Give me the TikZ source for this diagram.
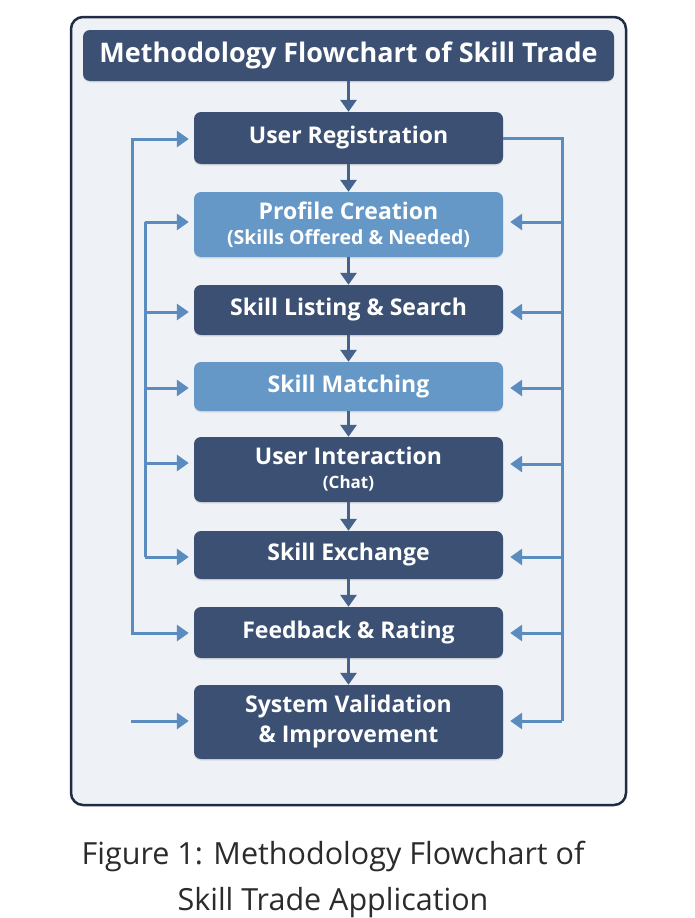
\documentclass[tikz,border=0pt]{standalone}
\usepackage{fontspec}
\setmainfont{Open Sans}
\usetikzlibrary{arrows.meta,shadows}
\usepackage{xcolor}
\definecolor{navy}{HTML}{3B5072}
\definecolor{sky}{HTML}{6598C6}
\definecolor{linkblue}{HTML}{5B8CBF}
\definecolor{flowblue}{HTML}{46628A}
\definecolor{panel}{HTML}{EEF1F5}
\definecolor{rim}{HTML}{1F2C43}
\definecolor{captext}{HTML}{2B2B2B}

\begin{document}
\begin{tikzpicture}[
  x=1pt,y=-1pt,
  box/.style={rounded corners=7pt,fill=navy,text=white,inner sep=0pt,
    minimum width=309pt,align=center,
    font=\fontsize{23}{27}\selectfont\bfseries,
    drop shadow={shadow xshift=0pt,shadow yshift=-1.5pt,opacity=.18}},
  lightbox/.style={box,fill=sky},
  flow/.style={draw=flowblue,line width=3pt,-{Triangle[width=16pt,length=12pt]}},
  link/.style={draw=linkblue,line width=3pt},
  linkarrow/.style={link,-{Triangle[width=16pt,length=12pt]}}
]
  \fill[white] (0,0) rectangle (695,918);
  \useasboundingbox (0,0) rectangle (695,918);
  \draw[rim,fill=panel,line width=2.5pt,rounded corners=12pt]
    (71,17) rectangle (626,805);

  \node[box,minimum width=531pt,minimum height=51pt,
    font=\fontsize{27}{31}\selectfont\bfseries] (title) at (348.5,55.5)
    {Methodology Flowchart of Skill Trade};
  \node[box,minimum height=52pt] (reg) at (348.5,138) {User Registration};
  \node[lightbox,minimum height=65pt] (prof) at (348.5,224.5)
    {Profile Creation\\[-2pt]{\fontsize{19.5}{23}\selectfont (Skills Offered \& Needed)}};
  \node[box,minimum height=50pt] (list) at (348.5,310) {Skill Listing \& Search};
  \node[lightbox,minimum height=49pt] (match) at (348.5,386.5) {Skill Matching};
  \node[box,minimum height=65pt] (inter) at (348.5,469.5)
    {User Interaction\\[-3pt]{\fontsize{17}{21}\selectfont (Chat)}};
  \node[box,minimum height=48pt] (exch) at (348.5,555) {Skill Exchange};
  \node[box,minimum height=51pt] (feed) at (348.5,632.5) {Feedback \& Rating};
  \node[box,minimum height=74pt] (sys) at (348.5,722)
    {System Validation\\[3pt]\& Improvement};

  % main flow
  \foreach \a/\b in {title/reg,reg/prof,prof/list,list/match,match/inter,
                     inter/exch,exch/feed,feed/sys}
    \draw[flow] (\a) -- (\b);

  % left feedback loops
  \coordinate (lo1) at (132,139);
  \coordinate (lo2) at (132,633);
  \draw[linkarrow,shorten >=5pt] (lo2) -- (lo1) -- (lo1 -| reg.west);
  \draw[linkarrow,shorten >=5pt] (lo1) -- (lo2) -- (lo2 -| feed.west);
  \coordinate (li1) at (145,222);
  \coordinate (li2) at (145,557);
  \draw[link] (li1) -- (li2);
  \foreach \b/\y in {prof/222,list/312,match/388,inter/463,exch/557}{
    \coordinate (l-\b) at (145,\y);
    \draw[linkarrow,shorten >=5pt] (l-\b) -- (l-\b -| \b.west);
  }
  \coordinate (src) at (131,721);
  \draw[linkarrow,shorten >=5pt] (src) -- (src -| sys.west);

  % right side
  \coordinate (rtop) at (562,138);
  \coordinate (rbot) at (562,721);
  \draw[link,line join=miter] (reg.east) -- (rtop) -- (rbot);
  \foreach \b/\y in {prof/222,list/312,match/388,inter/464,exch/557,
                     feed/633,sys/721}{
    \coordinate (r-\b) at (562,\y);
    \draw[linkarrow,shorten >=7pt] (r-\b) -- (r-\b -| \b.east);
  }

  \node[align=center,text=captext,font=\fontsize{30.5}{46}\selectfont]
    (cap) at (333,879)
    {Figure 1: Methodology Flowchart of\\Skill Trade Application};
\end{tikzpicture}
\end{document}
